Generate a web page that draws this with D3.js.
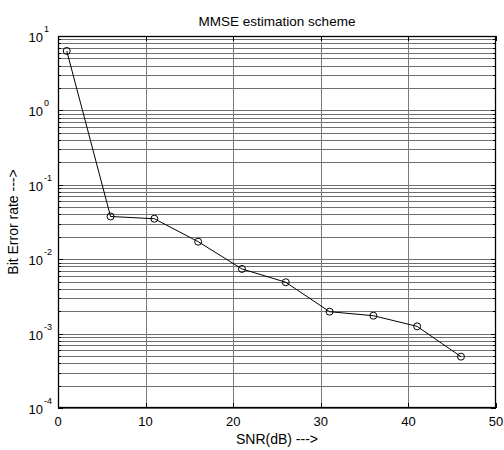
<!DOCTYPE html>
<html>
<head>
<meta charset="utf-8">
<script src="https://cdn.jsdelivr.net/npm/d3@7"></script>
<style>
  body { margin: 0; background: #fff; }
  svg text { font-family: "Liberation Sans", Arial, sans-serif; fill: #000; }
</style>
</head>
<body>
<svg id="chart" width="504" height="450"></svg>
<script>
// values
var snr = [1, 6, 11, 16, 21, 26, 31, 36, 41, 46];
var ber = [6.3, 0.0375, 0.035, 0.0172, 0.0074, 0.0049, 0.00197, 0.00174, 0.00125, 0.00049];
var xTicks = [0, 10, 20, 30, 40, 50];
var yExps = [-4, -3, -2, -1, 0, 1];

var svg = d3.select("#chart");
// plot box (window.top is read-only, so use own names)
var pL = 58, pR = 496, pT = 36, pB = 408;

var x = d3.scaleLinear().domain([0, 50]).range([pL, pR]);
var y = d3.scaleLog().domain([1e-4, 1e1]).range([pB, pT]);

// minor values for y grid
var minor = [];
yExps.slice(0, -1).forEach(function(e) {
  for (var k = 2; k <= 9; k++) minor.push(k * Math.pow(10, e));
});
var major = yExps.map(function(e) { return Math.pow(10, e); });

var grid = svg.append("g").attr("class", "grid");

grid.selectAll(".yg").data(major.concat(minor)).enter().append("line")
  .attr("x1", pL).attr("x2", pR)
  .attr("y1", function(d) { return Math.round(y(d)) + 0.5; })
  .attr("y2", function(d) { return Math.round(y(d)) + 0.5; })
  .attr("stroke", "#6e6e6e");

grid.selectAll(".xg").data(xTicks.slice(1, -1)).enter().append("line")
  .attr("y1", pT).attr("y2", pB)
  .attr("x1", function(d) { return Math.round(x(d)) + 0.5; })
  .attr("x2", function(d) { return Math.round(x(d)) + 0.5; })
  .attr("stroke", "#7a7a7a");

// ticks (inward) on all four sides
var ticks = svg.append("g");
xTicks.forEach(function(d) {
  var px = Math.round(x(d)) + 0.5;
  ticks.append("line").attr("x1", px).attr("x2", px).attr("y1", pB).attr("y2", pB - 5).attr("stroke", "#000");
  ticks.append("line").attr("x1", px).attr("x2", px).attr("y1", pT).attr("y2", pT + 5).attr("stroke", "#000");
});
major.concat(minor).forEach(function(d) {
  var py = Math.round(y(d)) + 0.5;
  var len = major.indexOf(d) >= 0 ? 5 : 3;
  ticks.append("line").attr("x1", pL).attr("x2", pL + len).attr("y1", py).attr("y2", py).attr("stroke", "#000");
  ticks.append("line").attr("x1", pR).attr("x2", pR - len).attr("y1", py).attr("y2", py).attr("stroke", "#000");
});

// frame
svg.append("rect")
  .attr("x", pL + 0.5).attr("y", pT + 0.5)
  .attr("width", pR - pL - 1).attr("height", pB - pT - 1)
  .attr("fill", "none").attr("stroke", "#000").attr("stroke-width", 1.3);

// x tick labels
svg.selectAll(".xl").data(xTicks).enter().append("text")
  .attr("x", function(d) { return x(d); })
  .attr("y", pB + 18)
  .attr("text-anchor", "middle")
  .attr("font-size", 13)
  .text(function(d) { return d; });

// y tick labels: 10 with superscript
var yl = svg.selectAll(".yl").data(yExps).enter().append("g")
  .attr("transform", function(d) { return "translate(0," + y(Math.pow(10, d)) + ")"; });
yl.append("text")
  .attr("x", 43)
  .attr("y", 6)
  .attr("text-anchor", "end")
  .attr("font-size", 13)
  .text("10");
yl.append("text")
  .attr("x", 44)
  .attr("y", -4)
  .attr("font-size", 9)
  .text(function(d) { return d; });

// data line + markers
var line = d3.line()
  .x(function(d, i) { return x(snr[i]); })
  .y(function(d) { return y(d); });

svg.append("path")
  .datum(ber)
  .attr("d", line)
  .attr("fill", "none")
  .attr("stroke", "#000")
  .attr("stroke-width", 1);

svg.selectAll(".pt").data(ber).enter().append("circle")
  .attr("cx", function(d, i) { return x(snr[i]); })
  .attr("cy", function(d) { return y(d); })
  .attr("r", 3.5)
  .attr("fill", "none")
  .attr("stroke", "#000")
  .attr("stroke-width", 1);

// labels
svg.append("text")
  .attr("x", (pL + pR) / 2)
  .attr("y", 26)
  .attr("text-anchor", "middle")
  .attr("font-size", 13.5)
  .text("MMSE estimation scheme");

svg.append("text")
  .attr("x", (pL + pR) / 2)
  .attr("y", 444)
  .attr("text-anchor", "middle")
  .attr("font-size", 14)
  .text("SNR(dB) --->");

svg.append("text")
  .attr("transform", "translate(18," + ((pT + pB) / 2) + ") rotate(-90)")
  .attr("text-anchor", "middle")
  .attr("font-size", 14)
  .text("Bit Error rate --->");
</script>
</body>
</html>
